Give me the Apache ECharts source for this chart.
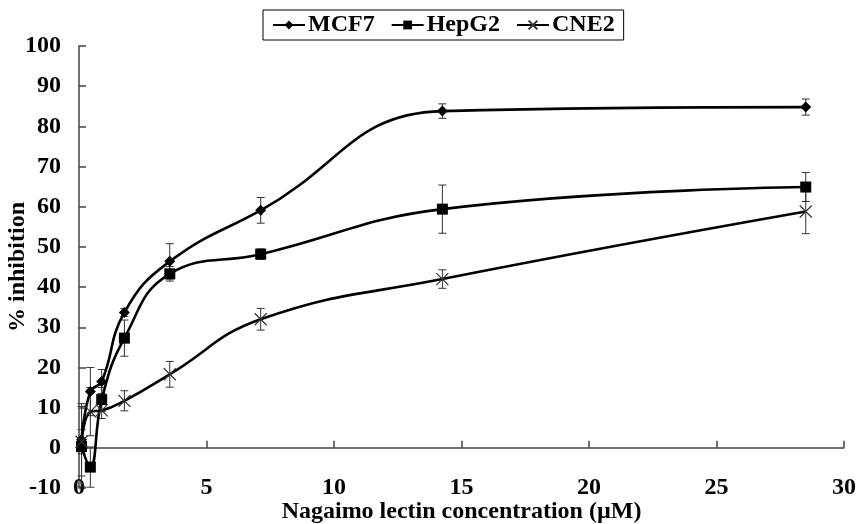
<!DOCTYPE html>
<html>
<head>
<meta charset="utf-8">
<script src="https://cdn.jsdelivr.net/npm/echarts@6/dist/echarts.min.js"></script>
<style>
  html, body { margin: 0; padding: 0; background: #fff; }
  #chart { width: 858px; height: 524px; }
</style>
</head>
<body>
<div id="chart"></div>
<script>
// Lectin concentrations (µM) tested for every cell line
var concentrations = [0.1, 0.445, 0.89, 1.78, 3.56, 7.125, 14.25, 28.5];

// Mean % inhibition per cell line
var mcf7 = [2, 14, 16.5, 33.7, 46.4, 59.1, 83.8, 84.8];
var hepg2 = [0.3, -4.8, 12, 27.3, 43.3, 48.2, 59.4, 64.9];
var cne2 = [1.5, 9, 9.3, 11.7, 18.3, 32, 42, 58.8];

// Standard deviations (error bars)
var mcf7Err = [9, 6, 3, 1, 4.4, 3.2, 1.8, 2];
var hepg2Err = [10, 5, 3, 4.5, 1.8, 1.3, 6, 3.6];
var cne2Err = [3, 6, 2, 2.5, 3.2, 2.7, 2.3, 5.5];

var seriesNames = ['MCF7', 'HepG2', 'CNE2'];

var FONT = '"Liberation Serif", "Times New Roman", serif';
var FS = 24;

function pairs(ys) {
  return concentrations.map(function (x, i) { return [x, ys[i]]; });
}
function errorRows(ys, es) {
  return concentrations.map(function (x, i) { return [x, ys[i] - es[i], ys[i] + es[i]]; });
}

function renderErrorBar(params, api) {
  var x = api.value(0);
  var lo = api.coord([x, api.value(1)]);
  var hi = api.coord([x, api.value(2)]);
  var cap = 4;
  var style = { stroke: '#333', lineWidth: 1 };
  return {
    type: 'group',
    children: [
      { type: 'line', shape: { x1: lo[0], y1: lo[1], x2: hi[0], y2: hi[1] }, style: style },
      { type: 'line', shape: { x1: hi[0] - cap, y1: hi[1], x2: hi[0] + cap, y2: hi[1] }, style: style },
      { type: 'line', shape: { x1: lo[0] - cap, y1: lo[1], x2: lo[0] + cap, y2: lo[1] }, style: style }
    ]
  };
}

var crossSymbol = 'path://M0,0L10,10M10,0L0,10';

function lineSeries(name, ys, symbol, size, extraItem) {
  return {
    name: name,
    type: 'line',
    data: pairs(ys),
    smooth: 0.45,
    symbol: symbol,
    symbolSize: size,
    showSymbol: true,
    lineStyle: { color: '#000', width: 2.6 },
    itemStyle: Object.assign({ color: '#000' }, extraItem || {}),
    z: 3
  };
}

function errSeries(name, ys, es) {
  return {
    name: name + ' SD',
    type: 'custom',
    renderItem: renderErrorBar,
    data: errorRows(ys, es),
    encode: { x: 0, y: [1, 2] },
    z: 2,
    silent: true
  };
}

var textBase = { fontFamily: FONT, fontWeight: 'bold', fontSize: FS, color: '#000' };

var chart = echarts.init(document.getElementById('chart'));
chart.setOption({
  animation: false,
  backgroundColor: '#fff',
  grid: { left: 79, right: 14, top: 46, bottom: 36, containLabel: false, outerBoundsMode: 'none' },
  legend: {
    data: seriesNames,
    left: 263,
    top: 10,
    orient: 'horizontal',
    borderColor: '#000',
    borderWidth: 1,
    padding: [3, 9, 3, 9],
    itemGap: 16,
    itemWidth: 32,
    itemHeight: 11,
    textStyle: Object.assign({}, textBase, { padding: [0, 0, 0, -2] })
  },
  xAxis: [
    {
      type: 'value',
      min: 0, max: 30, interval: 5,
      axisLine: { onZero: true, lineStyle: { color: '#444', width: 1.5 } },
      axisTick: { inside: true, length: 7, lineStyle: { color: '#444', width: 1.5 } },
      axisLabel: { show: false },
      splitLine: { show: false }
    },
    {
      type: 'value',
      position: 'bottom',
      min: 0, max: 30, interval: 5,
      offset: -14,
      axisLine: { show: false, onZero: false },
      axisTick: { show: false },
      splitLine: { show: false },
      axisLabel: Object.assign({}, textBase, { margin: 2 }),
      name: 'Nagaimo lectin concentration (\u00b5M)',
      nameLocation: 'middle',
      nameGap: 26,
      nameMoveOverlap: false,
      nameTextStyle: textBase
    }
  ],
  yAxis: {
    type: 'value',
    min: -10, max: 100, interval: 10,
    axisLine: { show: true, onZero: false, lineStyle: { color: '#444', width: 1.5 } },
    axisTick: { show: true, inside: true, length: 7, lineStyle: { color: '#444', width: 1.5 } },
    splitLine: { show: false },
    axisLabel: Object.assign({}, textBase, { margin: 18 }),
    name: '% inhibition',
    nameLocation: 'middle',
    nameGap: 49,
    nameMoveOverlap: false,
    nameTextStyle: textBase
  },
  series: [
    errSeries('MCF7', mcf7, mcf7Err),
    errSeries('HepG2', hepg2, hepg2Err),
    errSeries('CNE2', cne2, cne2Err),
    lineSeries('MCF7', mcf7, 'diamond', 11),
    lineSeries('HepG2', hepg2, 'rect', 11),
    lineSeries('CNE2', cne2, crossSymbol, 12, { color: 'none', borderColor: '#333', borderWidth: 1.2 })
  ]
});
</script>
</body>
</html>
